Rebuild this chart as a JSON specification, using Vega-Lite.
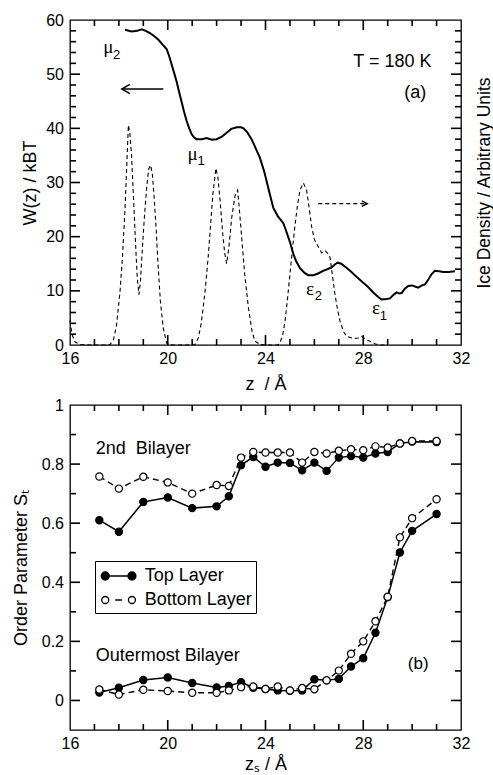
{
  "$schema": "https://vega.github.io/schema/vega-lite/v6.json",
  "padding": {"left": 11, "top": 11, "right": 0, "bottom": 0},
  "config": {
    "font": "Liberation Sans",
    "view": {"stroke": "black", "strokeWidth": 1.3},
    "axis": {"domain": false, "grid": false, "ticks": false, "labelColor": "black", "titleColor": "black", "labelFont": "Liberation Sans", "titleFont": "Liberation Sans", "labelFontSize": 16, "titleFontSize": 18, "titleFontWeight": "normal", "labelFlush": false},
    "tick": {"color": "black", "opacity": 1, "thickness": 1.6},
    "text": {"font": "Liberation Sans", "color": "black"}
  },
  "datasets": {
    "xmaj": [{"v": 20}, {"v": 24}, {"v": 28}],
    "xmin": [{"v": 17}, {"v": 18}, {"v": 19}, {"v": 21}, {"v": 22}, {"v": 23}, {"v": 25}, {"v": 26}, {"v": 27}, {"v": 29}, {"v": 30}, {"v": 31}],
    "wmaj": [{"v": 10}, {"v": 20}, {"v": 30}, {"v": 40}, {"v": 50}],
    "wmin": [{"v": 2}, {"v": 4}, {"v": 6}, {"v": 8}, {"v": 12}, {"v": 14}, {"v": 16}, {"v": 18}, {"v": 22}, {"v": 24}, {"v": 26}, {"v": 28}, {"v": 32}, {"v": 34}, {"v": 36}, {"v": 38}, {"v": 42}, {"v": 44}, {"v": 46}, {"v": 48}, {"v": 52}, {"v": 54}, {"v": 56}, {"v": 58}],
    "smaj": [{"v": 0}, {"v": 0.2}, {"v": 0.4}, {"v": 0.6}, {"v": 0.8}],
    "smin": [{"v": 0.1}, {"v": 0.3}, {"v": 0.5}, {"v": 0.7}, {"v": 0.9}],
    "s": [
      {"z":17.2,"S":0.610,"layer":"Top Layer","bilayer":"2nd"},{"z":18,"S":0.571,"layer":"Top Layer","bilayer":"2nd"},{"z":19,"S":0.672,"layer":"Top Layer","bilayer":"2nd"},{"z":20,"S":0.687,"layer":"Top Layer","bilayer":"2nd"},{"z":21,"S":0.651,"layer":"Top Layer","bilayer":"2nd"},{"z":22,"S":0.657,"layer":"Top Layer","bilayer":"2nd"},{"z":22.5,"S":0.691,"layer":"Top Layer","bilayer":"2nd"},{"z":23,"S":0.796,"layer":"Top Layer","bilayer":"2nd"},{"z":23.5,"S":0.824,"layer":"Top Layer","bilayer":"2nd"},{"z":24,"S":0.791,"layer":"Top Layer","bilayer":"2nd"},{"z":24.5,"S":0.805,"layer":"Top Layer","bilayer":"2nd"},{"z":25,"S":0.804,"layer":"Top Layer","bilayer":"2nd"},{"z":25.5,"S":0.779,"layer":"Top Layer","bilayer":"2nd"},{"z":26,"S":0.805,"layer":"Top Layer","bilayer":"2nd"},{"z":26.5,"S":0.777,"layer":"Top Layer","bilayer":"2nd"},{"z":27,"S":0.822,"layer":"Top Layer","bilayer":"2nd"},{"z":27.5,"S":0.827,"layer":"Top Layer","bilayer":"2nd"},{"z":28,"S":0.822,"layer":"Top Layer","bilayer":"2nd"},{"z":28.5,"S":0.836,"layer":"Top Layer","bilayer":"2nd"},{"z":29,"S":0.841,"layer":"Top Layer","bilayer":"2nd"},{"z":29.5,"S":0.870,"layer":"Top Layer","bilayer":"2nd"},{"z":30,"S":0.876,"layer":"Top Layer","bilayer":"2nd"},{"z":31,"S":0.875,"layer":"Top Layer","bilayer":"2nd"},
      {"z":17.2,"S":0.027,"layer":"Top Layer","bilayer":"Outer"},{"z":18,"S":0.043,"layer":"Top Layer","bilayer":"Outer"},{"z":19,"S":0.069,"layer":"Top Layer","bilayer":"Outer"},{"z":20,"S":0.078,"layer":"Top Layer","bilayer":"Outer"},{"z":21,"S":0.059,"layer":"Top Layer","bilayer":"Outer"},{"z":22,"S":0.044,"layer":"Top Layer","bilayer":"Outer"},{"z":22.5,"S":0.049,"layer":"Top Layer","bilayer":"Outer"},{"z":23,"S":0.062,"layer":"Top Layer","bilayer":"Outer"},{"z":23.5,"S":0.043,"layer":"Top Layer","bilayer":"Outer"},{"z":24,"S":0.039,"layer":"Top Layer","bilayer":"Outer"},{"z":24.5,"S":0.034,"layer":"Top Layer","bilayer":"Outer"},{"z":25,"S":0.033,"layer":"Top Layer","bilayer":"Outer"},{"z":25.5,"S":0.034,"layer":"Top Layer","bilayer":"Outer"},{"z":26,"S":0.072,"layer":"Top Layer","bilayer":"Outer"},{"z":26.5,"S":0.068,"layer":"Top Layer","bilayer":"Outer"},{"z":27,"S":0.073,"layer":"Top Layer","bilayer":"Outer"},{"z":27.5,"S":0.115,"layer":"Top Layer","bilayer":"Outer"},{"z":28,"S":0.143,"layer":"Top Layer","bilayer":"Outer"},{"z":28.5,"S":0.229,"layer":"Top Layer","bilayer":"Outer"},{"z":29,"S":0.349,"layer":"Top Layer","bilayer":"Outer"},{"z":29.5,"S":0.501,"layer":"Top Layer","bilayer":"Outer"},{"z":30,"S":0.574,"layer":"Top Layer","bilayer":"Outer"},{"z":31,"S":0.631,"layer":"Top Layer","bilayer":"Outer"},
      {"z":17.2,"S":0.758,"layer":"Bottom Layer","bilayer":"2nd"},{"z":18,"S":0.717,"layer":"Bottom Layer","bilayer":"2nd"},{"z":19,"S":0.757,"layer":"Bottom Layer","bilayer":"2nd"},{"z":20,"S":0.738,"layer":"Bottom Layer","bilayer":"2nd"},{"z":21,"S":0.700,"layer":"Bottom Layer","bilayer":"2nd"},{"z":22,"S":0.729,"layer":"Bottom Layer","bilayer":"2nd"},{"z":22.5,"S":0.726,"layer":"Bottom Layer","bilayer":"2nd"},{"z":23,"S":0.822,"layer":"Bottom Layer","bilayer":"2nd"},{"z":23.5,"S":0.841,"layer":"Bottom Layer","bilayer":"2nd"},{"z":24,"S":0.839,"layer":"Bottom Layer","bilayer":"2nd"},{"z":24.5,"S":0.839,"layer":"Bottom Layer","bilayer":"2nd"},{"z":25,"S":0.839,"layer":"Bottom Layer","bilayer":"2nd"},{"z":25.5,"S":0.805,"layer":"Bottom Layer","bilayer":"2nd"},{"z":26,"S":0.841,"layer":"Bottom Layer","bilayer":"2nd"},{"z":26.5,"S":0.836,"layer":"Bottom Layer","bilayer":"2nd"},{"z":27,"S":0.845,"layer":"Bottom Layer","bilayer":"2nd"},{"z":27.5,"S":0.850,"layer":"Bottom Layer","bilayer":"2nd"},{"z":28,"S":0.847,"layer":"Bottom Layer","bilayer":"2nd"},{"z":28.5,"S":0.860,"layer":"Bottom Layer","bilayer":"2nd"},{"z":29,"S":0.856,"layer":"Bottom Layer","bilayer":"2nd"},{"z":29.5,"S":0.870,"layer":"Bottom Layer","bilayer":"2nd"},{"z":30,"S":0.878,"layer":"Bottom Layer","bilayer":"2nd"},{"z":31,"S":0.878,"layer":"Bottom Layer","bilayer":"2nd"},
      {"z":17.2,"S":0.037,"layer":"Bottom Layer","bilayer":"Outer"},{"z":18,"S":0.020,"layer":"Bottom Layer","bilayer":"Outer"},{"z":19,"S":0.036,"layer":"Bottom Layer","bilayer":"Outer"},{"z":20,"S":0.032,"layer":"Bottom Layer","bilayer":"Outer"},{"z":21,"S":0.026,"layer":"Bottom Layer","bilayer":"Outer"},{"z":22,"S":0.026,"layer":"Bottom Layer","bilayer":"Outer"},{"z":22.5,"S":0.034,"layer":"Bottom Layer","bilayer":"Outer"},{"z":23,"S":0.045,"layer":"Bottom Layer","bilayer":"Outer"},{"z":23.5,"S":0.047,"layer":"Bottom Layer","bilayer":"Outer"},{"z":24,"S":0.039,"layer":"Bottom Layer","bilayer":"Outer"},{"z":24.5,"S":0.047,"layer":"Bottom Layer","bilayer":"Outer"},{"z":25,"S":0.034,"layer":"Bottom Layer","bilayer":"Outer"},{"z":25.5,"S":0.042,"layer":"Bottom Layer","bilayer":"Outer"},{"z":26,"S":0.038,"layer":"Bottom Layer","bilayer":"Outer"},{"z":26.5,"S":0.068,"layer":"Bottom Layer","bilayer":"Outer"},{"z":27,"S":0.101,"layer":"Bottom Layer","bilayer":"Outer"},{"z":27.5,"S":0.158,"layer":"Bottom Layer","bilayer":"Outer"},{"z":28,"S":0.200,"layer":"Bottom Layer","bilayer":"Outer"},{"z":28.5,"S":0.268,"layer":"Bottom Layer","bilayer":"Outer"},{"z":29,"S":0.351,"layer":"Bottom Layer","bilayer":"Outer"},{"z":29.5,"S":0.552,"layer":"Bottom Layer","bilayer":"Outer"},{"z":30,"S":0.617,"layer":"Bottom Layer","bilayer":"Outer"},{"z":31,"S":0.681,"layer":"Bottom Layer","bilayer":"Outer"}
    ]
  },
  "resolve": {"legend": {"fill": "independent", "shape": "independent"}},
  "vconcat": [
    {
      "width": 391,
      "height": 325,
      "resolve": {"axis": {"x": "independent", "y": "independent"}},
      "layer": [
        {
          "data": {"values": [
            {"z":18.25,"W":58.2},{"z":18.52,"W":57.9},{"z":18.75,"W":58.0},{"z":18.93,"W":58.3},{"z":19.1,"W":58.0},{"z":19.27,"W":57.6},{"z":19.45,"W":57.0},{"z":19.61,"W":56.4},{"z":19.8,"W":55.4},{"z":19.96,"W":54.6},{"z":20.06,"W":53.3},{"z":20.16,"W":51.8},{"z":20.27,"W":50.1},{"z":20.37,"W":48.5},{"z":20.47,"W":46.6},{"z":20.57,"W":44.8},{"z":20.67,"W":43.0},{"z":20.77,"W":41.4},{"z":20.88,"W":40.0},{"z":20.98,"W":38.9},{"z":21.08,"W":38.3},{"z":21.18,"W":38.0},{"z":21.4,"W":38.0},{"z":21.59,"W":38.2},{"z":21.8,"W":37.9},{"z":22.0,"W":38.0},{"z":22.2,"W":38.4},{"z":22.41,"W":39.2},{"z":22.6,"W":39.9},{"z":22.82,"W":40.2},{"z":23.0,"W":40.2},{"z":23.1,"W":40.0},{"z":23.25,"W":39.3},{"z":23.43,"W":38.0},{"z":23.6,"W":36.3},{"z":23.77,"W":34.6},{"z":23.95,"W":32.0},{"z":24.18,"W":27.8},{"z":24.32,"W":25.3},{"z":24.5,"W":23.8},{"z":24.73,"W":22.5},{"z":24.85,"W":21.0},{"z":25.0,"W":19.0},{"z":25.14,"W":16.8},{"z":25.25,"W":15.5},{"z":25.41,"W":14.2},{"z":25.6,"W":13.3},{"z":25.75,"W":12.9},{"z":25.96,"W":12.9},{"z":26.15,"W":13.2},{"z":26.36,"W":13.7},{"z":26.7,"W":14.3},{"z":26.85,"W":14.9},{"z":26.95,"W":15.2},{"z":27.1,"W":15.0},{"z":27.3,"W":14.3},{"z":27.46,"W":13.7},{"z":27.7,"W":12.7},{"z":28.0,"W":11.5},{"z":28.2,"W":10.7},{"z":28.41,"W":9.7},{"z":28.6,"W":8.9},{"z":28.75,"W":8.4},{"z":28.95,"W":8.5},{"z":29.09,"W":8.6},{"z":29.25,"W":9.3},{"z":29.37,"W":9.7},{"z":29.47,"W":9.5},{"z":29.57,"W":9.6},{"z":29.7,"W":10.4},{"z":29.84,"W":10.9},{"z":30.0,"W":11.0},{"z":30.12,"W":10.8},{"z":30.25,"W":10.6},{"z":30.4,"W":11.0},{"z":30.53,"W":11.2},{"z":30.65,"W":12.0},{"z":30.8,"W":13.1},{"z":30.93,"W":13.7},{"z":31.1,"W":13.6},{"z":31.27,"W":13.5},{"z":31.5,"W":13.5},{"z":31.75,"W":13.6}
          ]},
          "mark": {"type": "line", "color": "black", "strokeWidth": 2},
          "encoding": {
            "x": {"field": "z", "type": "quantitative", "scale": {"domain": [16, 32], "nice": false}, "axis": {"orient": "bottom", "values": [16, 20, 24, 28, 32], "labelPadding": 5.5, "title": "z\u00a0 / Å", "titlePadding": 9}},
            "y": {"field": "W", "type": "quantitative", "scale": {"domain": [0, 60], "nice": false}, "axis": {"orient": "left", "values": [0, 10, 20, 30, 40, 50, 60], "labelPadding": 6.5, "title": "W(z) / kBT", "titlePadding": 6}}
          }
        },
        {
          "data": {"values": [
            {"z":16.0,"D":4.5},{"z":16.08,"D":2.0},{"z":16.2,"D":0.6},{"z":16.4,"D":0.1},{"z":16.8,"D":0},{"z":17.5,"D":0},{"z":17.64,"D":0.1},{"z":17.78,"D":1.0},{"z":17.9,"D":3.5},{"z":18.05,"D":10.0},{"z":18.15,"D":16.5},{"z":18.25,"D":25.0},{"z":18.33,"D":34.0},{"z":18.39,"D":40.6},{"z":18.45,"D":39.0},{"z":18.52,"D":35.0},{"z":18.6,"D":27.0},{"z":18.68,"D":19.0},{"z":18.75,"D":12.5},{"z":18.82,"D":9.3},{"z":18.88,"D":11.5},{"z":18.95,"D":17.0},{"z":19.05,"D":24.0},{"z":19.14,"D":29.2},{"z":19.22,"D":32.5},{"z":19.3,"D":33.2},{"z":19.37,"D":31.5},{"z":19.44,"D":27.5},{"z":19.53,"D":21.0},{"z":19.61,"D":14.3},{"z":19.7,"D":8.0},{"z":19.82,"D":3.0},{"z":19.96,"D":0.3},{"z":20.2,"D":0},{"z":21.0,"D":0},{"z":21.11,"D":0.1},{"z":21.25,"D":1.3},{"z":21.35,"D":3.5},{"z":21.45,"D":6.8},{"z":21.55,"D":11.0},{"z":21.65,"D":16.0},{"z":21.75,"D":22.0},{"z":21.85,"D":28.0},{"z":21.97,"D":32.6},{"z":22.05,"D":31.0},{"z":22.14,"D":26.7},{"z":22.25,"D":20.5},{"z":22.33,"D":17.0},{"z":22.41,"D":15.0},{"z":22.5,"D":18.0},{"z":22.62,"D":23.6},{"z":22.75,"D":27.5},{"z":22.86,"D":28.6},{"z":22.95,"D":24.0},{"z":23.05,"D":18.5},{"z":23.15,"D":13.0},{"z":23.3,"D":6.9},{"z":23.45,"D":2.5},{"z":23.57,"D":0.7},{"z":23.77,"D":0.1},{"z":24.0,"D":0},{"z":24.5,"D":0},{"z":24.59,"D":0.4},{"z":24.7,"D":1.8},{"z":24.8,"D":4.4},{"z":24.9,"D":8.5},{"z":25.0,"D":13.1},{"z":25.1,"D":17.5},{"z":25.2,"D":21.8},{"z":25.3,"D":25.5},{"z":25.41,"D":28.6},{"z":25.55,"D":29.9},{"z":25.68,"D":28.6},{"z":25.78,"D":25.5},{"z":25.89,"D":21.8},{"z":26.0,"D":19.5},{"z":26.09,"D":18.7},{"z":26.2,"D":17.8},{"z":26.3,"D":17.0},{"z":26.43,"D":17.4},{"z":26.55,"D":16.9},{"z":26.64,"D":16.2},{"z":26.75,"D":12.5},{"z":26.84,"D":9.4},{"z":26.95,"D":6.5},{"z":27.05,"D":4.4},{"z":27.2,"D":2.4},{"z":27.32,"D":1.6},{"z":27.59,"D":1.2},{"z":27.8,"D":1.3},{"z":27.93,"D":1.6},{"z":28.1,"D":1.1},{"z":28.27,"D":0.7},{"z":28.5,"D":0.2},{"z":28.68,"D":0},{"z":29.0,"D":0}
          ]},
          "mark": {"type": "line", "color": "black", "strokeWidth": 1.1, "strokeDash": [4, 3]},
          "encoding": {
            "x": {"field": "z", "type": "quantitative", "axis": null},
            "y": {"field": "D", "type": "quantitative", "axis": null}
          }
        },
        {
          "data": {"values": [
            {"part": "shaft", "i": 1, "z": 19.82, "W": 47.26},
            {"part": "shaft", "i": 2, "z": 18.12, "W": 47.26},
            {"part": "head", "i": 1, "z": 18.45, "W": 48.1},
            {"part": "head", "i": 2, "z": 18.12, "W": 47.26},
            {"part": "head", "i": 3, "z": 18.45, "W": 46.42},
            {"part": "head2", "i": 1, "z": 27.94, "W": 26.6},
            {"part": "head2", "i": 2, "z": 28.16, "W": 26.1},
            {"part": "head2", "i": 3, "z": 27.94, "W": 25.6}
          ]},
          "mark": {"type": "line", "color": "black", "strokeWidth": 1.5},
          "encoding": {
            "x": {"field": "z", "type": "quantitative", "axis": null},
            "y": {"field": "W", "type": "quantitative", "axis": {"orient": "right", "values": [0, 60], "labels": false, "title": "Ice Density / Arbitrary Units", "titleFontSize": 17.5, "titleAngle": 270, "titleBaseline": "top", "titlePadding": 14}},
            "detail": {"field": "part"},
            "order": {"field": "i"}
          }
        },
        {
          "data": {"values": [
            {"i": 1, "z": 26.16, "W": 26.1},
            {"i": 2, "z": 28.14, "W": 26.1}
          ]},
          "mark": {"type": "line", "color": "black", "strokeWidth": 1.1, "strokeDash": [4, 3]},
          "encoding": {
            "x": {"field": "z", "type": "quantitative", "axis": null},
            "y": {"field": "W", "type": "quantitative", "axis": null},
            "order": {"field": "i"}
          }
        },
        {
          "data": {"values": [
            {"z": 17.57, "W": 54.95, "t": "μ"},
            {"z": 21.02, "W": 35.25, "t": "μ"},
            {"z": 25.82, "W": 10.3, "t": "ε"},
            {"z": 28.52, "W": 6.9, "t": "ε"}
          ]},
          "mark": {"type": "text", "font": "Liberation Serif", "fontSize": 19, "align": "center", "baseline": "middle"},
          "encoding": {
            "x": {"field": "z", "type": "quantitative", "axis": null},
            "y": {"field": "W", "type": "quantitative", "axis": null},
            "text": {"field": "t"}
          }
        },
        {
          "data": {"values": [
            {"z": 17.91, "W": 53.6, "t": "2"},
            {"z": 21.37, "W": 33.9, "t": "1"},
            {"z": 26.16, "W": 9.0, "t": "2"},
            {"z": 28.82, "W": 5.4, "t": "1"}
          ]},
          "mark": {"type": "text", "fontSize": 13, "align": "center", "baseline": "middle"},
          "encoding": {
            "x": {"field": "z", "type": "quantitative", "axis": null},
            "y": {"field": "W", "type": "quantitative", "axis": null},
            "text": {"field": "t"}
          }
        },
        {
          "data": {"values": [
            {"z": 29.19, "W": 52.3, "t": "T = 180 K"},
            {"z": 30.13, "W": 46.6, "t": "(a)"}
          ]},
          "mark": {"type": "text", "fontSize": 18, "align": "center", "baseline": "middle"},
          "encoding": {
            "x": {"field": "z", "type": "quantitative", "axis": null},
            "y": {"field": "W", "type": "quantitative", "axis": null},
            "text": {"field": "t"}
          }
        },
        {"data": {"name": "xmaj"}, "mark": {"type": "tick", "orient": "vertical", "size": 10, "yOffset": -5}, "encoding": {"x": {"field": "v", "type": "quantitative", "axis": null}, "y": {"datum": 0, "type": "quantitative", "axis": null}}},
        {"data": {"name": "xmaj"}, "mark": {"type": "tick", "orient": "vertical", "size": 10, "yOffset": 5}, "encoding": {"x": {"field": "v", "type": "quantitative", "axis": null}, "y": {"datum": 60, "type": "quantitative", "axis": null}}},
        {"data": {"name": "xmin"}, "mark": {"type": "tick", "orient": "vertical", "size": 6, "yOffset": -3}, "encoding": {"x": {"field": "v", "type": "quantitative", "axis": null}, "y": {"datum": 0, "type": "quantitative", "axis": null}}},
        {"data": {"name": "xmin"}, "mark": {"type": "tick", "orient": "vertical", "size": 6, "yOffset": 3}, "encoding": {"x": {"field": "v", "type": "quantitative", "axis": null}, "y": {"datum": 60, "type": "quantitative", "axis": null}}},
        {"data": {"name": "wmaj"}, "mark": {"type": "tick", "orient": "horizontal", "size": 10, "xOffset": 5}, "encoding": {"y": {"field": "v", "type": "quantitative", "axis": null}, "x": {"datum": 16, "type": "quantitative", "axis": null}}},
        {"data": {"name": "wmaj"}, "mark": {"type": "tick", "orient": "horizontal", "size": 10, "xOffset": -5}, "encoding": {"y": {"field": "v", "type": "quantitative", "axis": null}, "x": {"datum": 32, "type": "quantitative", "axis": null}}},
        {"data": {"name": "wmin"}, "mark": {"type": "tick", "orient": "horizontal", "size": 6, "xOffset": 3}, "encoding": {"y": {"field": "v", "type": "quantitative", "axis": null}, "x": {"datum": 16, "type": "quantitative", "axis": null}}},
        {"data": {"name": "wmin"}, "mark": {"type": "tick", "orient": "horizontal", "size": 6, "xOffset": -3}, "encoding": {"y": {"field": "v", "type": "quantitative", "axis": null}, "x": {"datum": 32, "type": "quantitative", "axis": null}}}
      ]
    },
    {
      "width": 391,
      "height": 325,
      "resolve": {"axis": {"x": "independent", "y": "independent"}},
      "layer": [
        {
          "data": {"name": "s"},
          "transform": [{"filter": "datum.layer == 'Top Layer'"}],
          "mark": {"type": "line", "color": "black", "strokeWidth": 1.5},
          "encoding": {
            "x": {"field": "z", "type": "quantitative", "scale": {"domain": [16, 32], "nice": false}, "axis": {"orient": "bottom", "values": [16, 20, 24, 28, 32], "labelPadding": 5.5, "title": "zₛ / Å", "titlePadding": 4}},
            "y": {"field": "S", "type": "quantitative", "scale": {"domain": [-0.1, 1], "nice": false}, "axis": {"orient": "left", "values": [0, 0.2, 0.4, 0.6, 0.8, 1], "format": "~g", "labelPadding": 6.5, "title": "Order Parameter Sₜ", "titlePadding": 11}},
            "detail": {"field": "bilayer"}
          }
        },
        {
          "data": {"name": "s"},
          "transform": [{"filter": "datum.layer == 'Bottom Layer'"}],
          "mark": {"type": "line", "color": "black", "strokeWidth": 1.4, "strokeDash": [6, 4]},
          "encoding": {
            "x": {"field": "z", "type": "quantitative", "axis": null},
            "y": {"field": "S", "type": "quantitative", "axis": null},
            "detail": {"field": "bilayer"}
          }
        },
        {
          "data": {"name": "s"},
          "mark": {"type": "point", "shape": "circle", "filled": true, "stroke": "black", "strokeWidth": 1.2, "size": 52, "opacity": 1},
          "encoding": {
            "x": {"field": "z", "type": "quantitative", "axis": null},
            "y": {"field": "S", "type": "quantitative", "axis": null},
            "fill": {"field": "layer", "type": "nominal", "scale": {"domain": ["Top Layer", "Bottom Layer"], "range": ["black", "white"]}}
          }
        },
        {
          "data": {"name": "s"},
          "transform": [{"filter": "false"}],
          "mark": {"type": "point", "filled": true, "stroke": "black", "strokeWidth": 1.3, "size": 400, "opacity": 1},
          "encoding": {
            "x": {"field": "z", "type": "quantitative", "axis": null},
            "y": {"field": "S", "type": "quantitative", "axis": null},
            "fill": {"field": "layer", "type": "nominal",
              "legend": {"title": null, "orient": "none", "legendX": 25, "legendY": 156, "strokeColor": "black", "padding": 4, "rowPadding": 4, "symbolSize": 400, "labelOffset": 23.8, "labelFontSize": 18, "labelFont": "Liberation Sans", "labelColor": "black", "symbolStrokeWidth": 1.3,
                "encode": {"symbols": {"update": {"size": {"value": 400}, "stroke": {"value": "black"}, "strokeWidth": {"value": 1.3}}}}}},
            "shape": {"field": "layer", "type": "nominal",
              "scale": {"domain": ["Top Layer", "Bottom Layer"], "range": [
                "M-0.475,0L2.195,0M-0.875,0a0.4,0.4,0,1,0,0.8,0a0.4,0.4,0,1,0,-0.8,0ZM1.795,0a0.4,0.4,0,1,0,0.8,0a0.4,0.4,0,1,0,-0.8,0Z",
                "M-0.825,0a0.35,0.35,0,1,0,0.7,0a0.35,0.35,0,1,0,-0.7,0ZM1.845,0a0.35,0.35,0,1,0,0.7,0a0.35,0.35,0,1,0,-0.7,0ZM0.525,0L1.195,0"
              ]},
              "legend": {"title": null, "orient": "none", "legendX": 25, "legendY": 156, "strokeColor": "black", "padding": 4, "rowPadding": 4, "symbolSize": 400, "labelOffset": 23.8, "labelFontSize": 18, "labelFont": "Liberation Sans", "labelColor": "black", "symbolStrokeWidth": 1.3,
                "encode": {"symbols": {"update": {"size": {"value": 400}, "stroke": {"value": "black"}, "strokeWidth": {"value": 1.3}}}}}}
          }
        },
        {
          "data": {"values": [
            {"z": 17.05, "S": 0.85, "t": "2nd\u00a0 Bilayer"},
            {"z": 17.05, "S": 0.149, "t": "Outermost Bilayer"}
          ]},
          "mark": {"type": "text", "fontSize": 18, "align": "left", "baseline": "middle"},
          "encoding": {
            "x": {"field": "z", "type": "quantitative", "axis": null},
            "y": {"field": "S", "type": "quantitative", "axis": null},
            "text": {"field": "t"}
          }
        },
        {
          "data": {"values": [
            {"z": 30.25, "S": 0.122, "t": "(b)"}
          ]},
          "mark": {"type": "text", "fontSize": 17, "align": "center", "baseline": "middle"},
          "encoding": {
            "x": {"field": "z", "type": "quantitative", "axis": null},
            "y": {"field": "S", "type": "quantitative", "axis": null},
            "text": {"field": "t"}
          }
        },
        {"data": {"name": "xmaj"}, "mark": {"type": "tick", "orient": "vertical", "size": 10, "yOffset": -5}, "encoding": {"x": {"field": "v", "type": "quantitative", "axis": null}, "y": {"datum": -0.1, "type": "quantitative", "axis": null}}},
        {"data": {"name": "xmaj"}, "mark": {"type": "tick", "orient": "vertical", "size": 10, "yOffset": 5}, "encoding": {"x": {"field": "v", "type": "quantitative", "axis": null}, "y": {"datum": 1, "type": "quantitative", "axis": null}}},
        {"data": {"name": "xmin"}, "mark": {"type": "tick", "orient": "vertical", "size": 6, "yOffset": -3}, "encoding": {"x": {"field": "v", "type": "quantitative", "axis": null}, "y": {"datum": -0.1, "type": "quantitative", "axis": null}}},
        {"data": {"name": "xmin"}, "mark": {"type": "tick", "orient": "vertical", "size": 6, "yOffset": 3}, "encoding": {"x": {"field": "v", "type": "quantitative", "axis": null}, "y": {"datum": 1, "type": "quantitative", "axis": null}}},
        {"data": {"name": "smaj"}, "mark": {"type": "tick", "orient": "horizontal", "size": 10, "xOffset": 5}, "encoding": {"y": {"field": "v", "type": "quantitative", "axis": null}, "x": {"datum": 16, "type": "quantitative", "axis": null}}},
        {"data": {"name": "smaj"}, "mark": {"type": "tick", "orient": "horizontal", "size": 10, "xOffset": -5}, "encoding": {"y": {"field": "v", "type": "quantitative", "axis": null}, "x": {"datum": 32, "type": "quantitative", "axis": null}}},
        {"data": {"name": "smin"}, "mark": {"type": "tick", "orient": "horizontal", "size": 6, "xOffset": 3}, "encoding": {"y": {"field": "v", "type": "quantitative", "axis": null}, "x": {"datum": 16, "type": "quantitative", "axis": null}}},
        {"data": {"name": "smin"}, "mark": {"type": "tick", "orient": "horizontal", "size": 6, "xOffset": -3}, "encoding": {"y": {"field": "v", "type": "quantitative", "axis": null}, "x": {"datum": 32, "type": "quantitative", "axis": null}}}
      ]
    }
  ],
  "spacing": 60,
  "bounds": "flush"
}
